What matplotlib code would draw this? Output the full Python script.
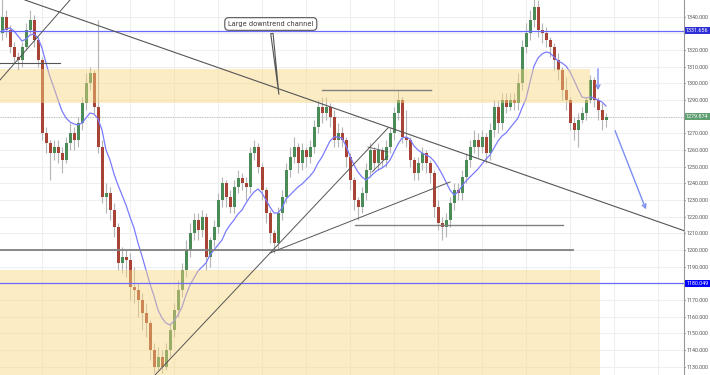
import matplotlib
matplotlib.use("Agg")
import matplotlib.pyplot as plt
import matplotlib.transforms as mtransforms
import numpy as np

# candle data (one candle per bar, index = bar number)
first_open = 1330
closes = [1340, 1332, 1322, 1316, 1314, 1322, 1332, 1338, 1326, 1314,
          1270, 1264, 1258, 1262, 1258, 1254, 1264, 1270, 1266, 1276,
          1288, 1300, 1306, 1286, 1262, 1232, 1234, 1224, 1214, 1192,
          1196, 1194, 1178, 1176, 1170, 1162, 1156, 1140, 1130, 1136,
          1130, 1140, 1152, 1164, 1176, 1188, 1200, 1210, 1218, 1212,
          1220, 1196, 1206, 1214, 1230, 1240, 1232, 1226, 1238, 1243,
          1240, 1238, 1258, 1262, 1250, 1236, 1222, 1210, 1204, 1222,
          1232, 1248, 1256, 1262, 1252, 1260, 1256, 1262, 1274, 1286,
          1282, 1286, 1280, 1266, 1270, 1266, 1256, 1242, 1230, 1226,
          1234, 1248, 1260, 1252, 1260, 1254, 1262, 1270, 1282, 1290,
          1268, 1266, 1254, 1246, 1252, 1258, 1252, 1246, 1226, 1216,
          1214, 1218, 1228, 1236, 1234, 1244, 1254, 1262, 1266, 1262,
          1268, 1258, 1272, 1286, 1276, 1290, 1286, 1290, 1288, 1300,
          1322, 1330, 1338, 1346, 1332, 1330, 1326, 1322, 1314, 1308,
          1296, 1290, 1276, 1272, 1278, 1282, 1290, 1302, 1290, 1284,
          1278, 1279.874]
highs = [1352, 1344, 1335, 1325, 1319, 1325, 1336, 1344, 1341, 1328,
         1316, 1274, 1266, 1266, 1266, 1262, 1268, 1276, 1274, 1280,
         1292, 1306, 1310, 1308, 1338, 1266, 1240, 1238, 1228, 1216,
         1202, 1200, 1198, 1190, 1180, 1174, 1168, 1158, 1144, 1142,
         1140, 1144, 1156, 1168, 1182, 1192, 1206, 1216, 1222, 1222,
         1224, 1222, 1208, 1218, 1234, 1244, 1242, 1236, 1242, 1248,
         1246, 1244, 1262, 1266, 1264, 1252, 1238, 1224, 1212, 1226,
         1236, 1252, 1262, 1268, 1264, 1264, 1262, 1266, 1278, 1290,
         1292, 1292, 1288, 1284, 1276, 1274, 1268, 1258, 1244, 1232,
         1238, 1252, 1264, 1262, 1264, 1262, 1266, 1274, 1286, 1296,
         1292, 1284, 1268, 1256, 1256, 1262, 1260, 1254, 1248, 1230,
         1220, 1222, 1232, 1240, 1240, 1248, 1258, 1266, 1272, 1270,
         1272, 1270, 1276, 1290, 1290, 1294, 1294, 1294, 1294, 1306,
         1326, 1336, 1344, 1352, 1350, 1336, 1334, 1328, 1324, 1318,
         1310, 1304, 1292, 1280, 1282, 1286, 1292, 1305, 1304, 1292,
         1288, 1282]
lows = [1326, 1328, 1318, 1312, 1308, 1310, 1320, 1330, 1322, 1310,
        1266, 1258, 1242, 1254, 1252, 1246, 1252, 1260, 1260, 1262,
        1272, 1284, 1296, 1282, 1258, 1228, 1222, 1218, 1208, 1188,
        1186, 1184, 1170, 1168, 1160, 1152, 1148, 1134, 1126, 1128,
        1126, 1128, 1136, 1148, 1160, 1172, 1184, 1196, 1206, 1206,
        1208, 1188, 1190, 1202, 1210, 1226, 1226, 1222, 1222, 1234,
        1236, 1230, 1234, 1254, 1246, 1230, 1216, 1204, 1198, 1200,
        1218, 1228, 1244, 1252, 1246, 1248, 1250, 1252, 1258, 1270,
        1276, 1278, 1274, 1262, 1262, 1262, 1250, 1236, 1224, 1218,
        1222, 1230, 1244, 1248, 1248, 1250, 1250, 1258, 1266, 1278,
        1264, 1262, 1250, 1242, 1242, 1248, 1246, 1240, 1220, 1212,
        1206, 1208, 1214, 1224, 1230, 1230, 1240, 1250, 1258, 1256,
        1258, 1252, 1254, 1268, 1270, 1272, 1282, 1284, 1284, 1284,
        1296, 1318, 1326, 1334, 1328, 1324, 1322, 1316, 1308, 1302,
        1290, 1284, 1272, 1266, 1262, 1276, 1278, 1288, 1286, 1278,
        1272, 1274]
# moving average as shown on the chart
ma = [1331.4, 1332.6, 1333.2, 1331.4, 1328.4, 1325.4, 1326.6, 1329.0, 1329.6, 1327.2,
      1321.2, 1312.2, 1303.8, 1297.2, 1290.0, 1283.4, 1279.2, 1276.8, 1275.6, 1275.0,
      1276.2, 1279.2, 1282.2, 1281.6, 1278.6, 1272.0, 1260.0, 1254.0, 1245.6, 1239.0,
      1233.0, 1227.0, 1219.8, 1213.2, 1204.2, 1196.4, 1188.0, 1179.6, 1172.4, 1164.0,
      1159.2, 1156.2, 1155.0, 1157.4, 1161.0, 1165.8, 1173.0, 1179.0, 1183.2, 1187.4,
      1189.8, 1192.2, 1197.0, 1200.0, 1203.0, 1206.0, 1211.4, 1215.0, 1218.0, 1221.6,
      1224.0, 1228.2, 1231.8, 1234.8, 1236.6, 1234.2, 1230.0, 1225.8, 1222.2, 1222.2,
      1225.2, 1230.6, 1233.0, 1235.4, 1237.8, 1239.6, 1242.0, 1244.4, 1247.4, 1252.2,
      1255.8, 1260.6, 1265.4, 1267.8, 1267.8, 1267.2, 1262.4, 1256.4, 1251.0, 1246.8,
      1243.8, 1242.0, 1243.8, 1246.2, 1248.0, 1249.2, 1251.0, 1254.0, 1258.8, 1263.6,
      1267.2, 1267.8, 1266.6, 1262.4, 1260.0, 1258.2, 1257.0, 1255.8, 1253.4, 1249.8,
      1245.6, 1240.8, 1236.0, 1233.0, 1234.8, 1238.4, 1241.4, 1243.8, 1246.2, 1248.6,
      1251.6, 1254.6, 1257.0, 1261.2, 1265.4, 1268.4, 1270.2, 1273.2, 1276.2, 1279.2,
      1285.2, 1290.6, 1300.8, 1310.4, 1315.2, 1317.6, 1318.8, 1318.2, 1315.8, 1313.4,
      1312.2, 1310.4, 1306.8, 1302.0, 1296.6, 1291.8, 1291.2, 1291.8, 1291.2, 1290.0,
      1288.8, 1286.4]

# drawn levels and zones
upper_zone = (1288.2, 1308.6)
lower_zone = (1125, 1188)
blue_levels = [1331.656, 1180.049]
last_price = 1279.874
y_ticks = list(range(1130, 1341, 10))
hidden_ticks = [1330, 1280, 1180]  # covered by the price boxes

label_font = "Roboto"

opens = np.array([first_open] + closes[:-1], dtype=float)
closes = np.array(closes, dtype=float)
idx = np.arange(len(closes))

fig = plt.figure(figsize=(7.1, 3.75), dpi=100)
ax = fig.add_axes([0, 0, 684 / 710, 1])
ax.set_xlim(-0.5, 170.5)
ax.set_ylim(1125, 1350)

# grid
ax.set_yticks(y_ticks)
ax.set_xticks(np.arange(10, 171, 11))
ax.grid(True, color="#efefef", lw=0.8)
ax.set_axisbelow(True)
ax.tick_params(axis="x", length=0, labelbottom=False)
ax.yaxis.tick_right()
ax.tick_params(axis="y", colors="#555555", length=1.0, pad=0.6)
ax.set_yticklabels(["" if v in hidden_ticks else f"{v}.000" for v in y_ticks],
                   family=label_font, fontsize=3.9)
for pos in ["top", "bottom", "left"]:
    ax.spines[pos].set_visible(False)
ax.spines["right"].set_color("#999999")

# candles
up = closes >= opens
ax.vlines(idx, lows, highs, color="#b5b5b5", lw=0.8, zorder=2)
body_lo = np.minimum(opens, closes)
body_h = np.maximum(np.abs(closes - opens), 0.8)
ax.bar(idx[up], body_h[up], bottom=body_lo[up], width=0.75, color="#4b8b57", zorder=3)
ax.bar(idx[~up], body_h[~up], bottom=body_lo[~up], width=0.75, color="#a84436", zorder=3)

# moving average
ax.plot(idx, ma, color="#7b7bff", lw=0.9, zorder=4)

# supply / demand zones over the candles
ax.fill_between([-0.5, 147], *upper_zone, color="#f9d77e", alpha=0.45, lw=0, zorder=5)
ax.fill_between([-0.5, 149.5], *lower_zone, color="#f9d77e", alpha=0.45, lw=0, zorder=5)

# horizontal levels
for lv in blue_levels:
    ax.axhline(lv, color="#6a6aff", lw=0.9, zorder=6)
ax.axhline(last_price, color="#a9bfae", lw=0.7, ls=(0, (1, 1.5)), zorder=1)
ax.plot([-0.5, 142.75], [1200, 1200], color="#808080", lw=1.3, zorder=6)
ax.plot([88.25, 140.25], [1215, 1215], color="#808080", lw=1.0, zorder=6)
ax.plot([80, 107.25], [1296, 1296], color="#808080", lw=1.0, zorder=6)
ax.plot([-0.5, 14.5], [1312.2, 1312.2], color="#555555", lw=0.8, zorder=6)

# trend lines
tl_color = "#555555"
ax.plot([5.75, 170.5], [1350, 1211.6], color=tl_color, lw=0.8, zorder=6)
ax.plot([-0.5, 17], [1302, 1350], color=tl_color, lw=0.7, zorder=6)
ax.plot([38.25, 96.5], [1125, 1273.2], color=tl_color, lw=0.7, zorder=6)
ax.plot([67, 112], [1198.2, 1240.8], color=tl_color, lw=0.7, zorder=6)
ax.plot([91.5, 96.5], [1261.8, 1258.8], color=tl_color, lw=0.6, zorder=6)
ax.plot([92.5, 96.5], [1246.8, 1256.4], color=tl_color, lw=0.6, zorder=6)

# blue arrows
arrow_kw = dict(arrowstyle="->", color="#7b8ff0", lw=1.0, mutation_scale=7)
ax.annotate("", xy=(149, 1294.2), xytext=(149, 1310.4), arrowprops=arrow_kw, zorder=7)
ax.annotate("", xy=(161.25, 1222.8), xytext=(153, 1273.2), arrowprops=arrow_kw, zorder=7)

# callout
ax.annotate("Large downtrend channel", xy=(69.3, 1291.8), xytext=(67.2, 1335.6),
            ha="center", va="center", fontsize=4.8, color="#333333", zorder=8,
            bbox=dict(boxstyle="round,pad=0.5,rounding_size=0.6", fc="white",
                      ec="#555555", lw=0.8),
            arrowprops=dict(arrowstyle="wedge,tail_width=0.35,shrink_factor=0.5",
                            fc="white", ec="#555555", lw=0.8))

# price labels on the axis
box_tr = mtransforms.blended_transform_factory(fig.transFigure, ax.transData)
for val, fc in [(1331.656, "#2f2fd6"), (1180.049, "#0000ff"), (1279.874, "#5f9f70")]:
    ax.text(708.5 / 710, val, f"{val:.3f}", transform=box_tr, ha="right", va="center",
            family=label_font, fontsize=3.9, color="white", zorder=9, clip_on=False,
            bbox=dict(boxstyle="square,pad=0.2", fc=fc, ec="none"))

fig.savefig("out.png", dpi=100)
